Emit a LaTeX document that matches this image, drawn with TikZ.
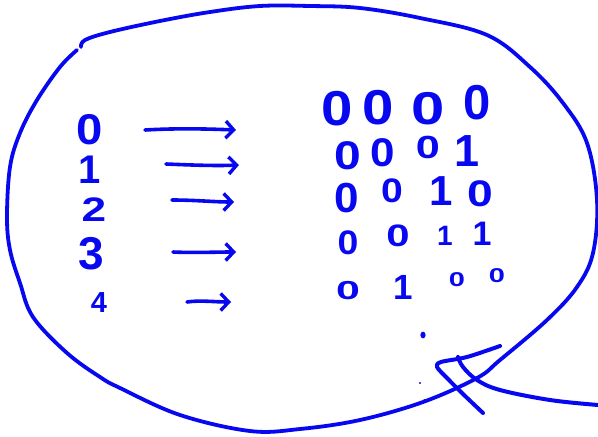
\documentclass[tikz,border=0pt]{standalone}
\usepackage{fontspec}
\setmainfont{Liberation Sans}
\usetikzlibrary{arrows.meta}
\definecolor{ink}{RGB}{8,8,240}
\tikzset{
  dg/.style={text=ink, inner sep=0pt, font=\bfseries\fontsize{#1}{#1}\selectfont,
    text height={0.72*#1pt}, text depth=0pt},
  pen/.style={draw=ink, line width=4pt, line cap=round, line join=round},
  thinpen/.style={draw=ink, line width=3.8pt, line cap=round, line join=round},
  arr/.style={draw=ink, line width=3.6pt, line cap=round,
    -{Straight Barb[length=8pt,width=17pt,line width=3.4pt]}}
}
\begin{document}
\begin{tikzpicture}[x=1pt,y=-1pt]
\useasboundingbox (0,0) rectangle (598,437);
% bubble outline
\draw[thinpen] plot[smooth, tension=0.6] coordinates {
 (81,47) (85,40) (110,32) (160,21) (210,12) (260,6) (310,6) (360,8) (420,18)
 (487,35) (530,67) (563,103) (587,143) (597,200) (593,253) (577,287) (547,320)
 (500,360) (477,378) (423,402) (360,420) (300,429) (250,431) (180,415)
 (120,388) (100,377) (67,353) (33,317) (20,283) (10,250) (7,217) (10,167)
 (20,133) (37,100) (60,67) (77,50)};
% tail
\draw[pen] plot[smooth, tension=0.6] coordinates {
 (458,357) (463,367) (477,380) (500,390) (550,400) (598,405)};
\draw[pen] plot[smooth, tension=0.5] coordinates {
 (500,346) (467,357) (441,362) (437,367) (447,378) (463,394) (483,413)};
% dots
\fill[ink] (423,335) ellipse (2.6pt and 3.4pt);
\fill[ink] (420,383) circle (1.2pt);
\fill[ink] (425,401) circle (2pt);
% left numbers
\node[dg=43,xscale=1.1] (l0) at (90,129) {0};
\node[dg=40] (l1) at (90,169) {1};
\node[dg=34,xscale=1.3] (l2) at (94,209) {2};
\node[dg=46] (l3) at (91,253) {3};
\node[dg=29] (l4) at (99,302) {4};
% arrows
\coordinate (a0s) at (145,130); \coordinate (a0e) at (236,130);
\coordinate (a1s) at (166,164); \coordinate (a1e) at (239,165);
\coordinate (a2s) at (172,200); \coordinate (a2e) at (234,202);
\coordinate (a3s) at (173,252); \coordinate (a3e) at (236,252);
\coordinate (a4s) at (187,302); \coordinate (a4e) at (231,302);
\draw[arr] (a0s) .. controls (180,128) and (210,129) .. (a0e);
\draw[arr] (a1s) .. controls (190,165) and (215,166) .. (a1e);
\draw[arr] (a2s) .. controls (195,200) and (215,202) .. (a2e);
\draw[arr] (a3s) .. controls (195,253) and (215,252) .. (a3e);
\draw[arr] (a4s) .. controls (200,300) and (215,302) .. (a4e);
% binary table
\node[dg=49,xscale=1.15] (b11) at (337,108) {0};
\node[dg=49,xscale=1.15] (b12) at (378,107) {0};
\node[dg=46,xscale=1.3] (b13) at (428,108) {0};
\node[dg=49] (b14) at (477,102) {0};
\node[dg=40,xscale=1.2] (b21) at (348,155) {0};
\node[dg=40,xscale=1.1] (b22) at (383,152) {0};
\node[dg=32,xscale=1.35] (b23) at (428,147) {0};
\node[dg=45] (b24) at (467,150) {1};
\node[dg=42,xscale=1.05] (b31) at (347,197) {0};
\node[dg=34,xscale=1.15] (b32) at (392,190) {0};
\node[dg=42] (b33) at (441,190) {1};
\node[dg=37,xscale=1.25] (b34) at (480,193) {0};
\node[dg=34,xscale=1.1] (b41) at (348,242) {0};
\node[dg=31,xscale=1.35] (b42) at (398,235) {0};
\node[dg=28] (b43) at (445,235) {1};
\node[dg=34] (b44) at (482,233) {1};
\node[dg=26,xscale=1.65] (b51) at (348,290) {0};
\node[dg=35] (b52) at (403,287) {1};
\node[dg=20,xscale=1.45] (b53) at (457,279) {0};
\node[dg=20,xscale=1.45] (b54) at (497,275) {0};
\end{tikzpicture}
\end{document}
